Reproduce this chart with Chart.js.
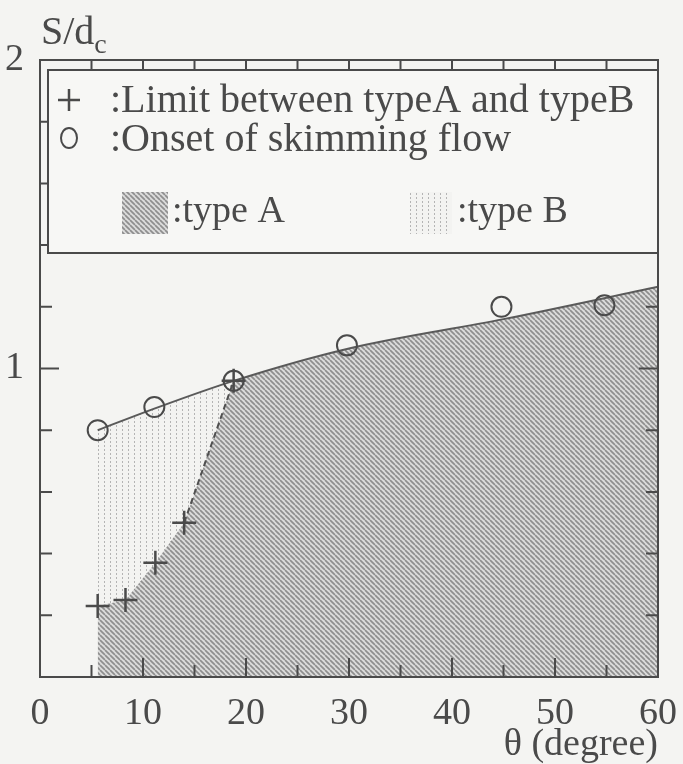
<!DOCTYPE html>
<html>
<head>
<meta charset="utf-8">
<title>S/dc against theta</title>
<script src="https://cdn.jsdelivr.net/npm/chart.js@4.4.1/dist/chart.umd.min.js"></script>
<style>
  html, body { margin: 0; padding: 0; background: #f4f4f2; }
  #wrap { width: 683px; height: 764px; }
</style>
</head>
<body>
<div id="wrap"><canvas id="flowChart" width="683" height="764"></canvas></div>
<script>
// values
const circleX = [5.6, 11.1, 18.8, 29.8, 44.8, 54.8];   // onset of skimming flow
const circleY = [0.80, 0.875, 0.96, 1.075, 1.20, 1.205];
const plusX = [5.6, 8.3, 11.2, 14.0, 18.8];            // limit between type A and type B
const plusY = [0.23, 0.25, 0.37, 0.50, 0.96];
const curveX = [5.6, 11.1, 18.8, 30, 45, 60];          // fitted onset curve
const curveY = [0.80, 0.87, 0.96, 1.065, 1.16, 1.265];
const xTickLabels = [0, 10, 20, 30, 40, 50, 60];
const yTickLabels = [1, 2];
const xMinor = [5, 10, 15, 20, 25, 30, 35, 40, 45, 50, 55];
const yMinor = [0.2, 0.4, 0.6, 0.8, 1.0, 1.2, 1.4, 1.6, 1.8];

const ink = '#4a4a4a';
const serif = '"Liberation Serif", "DejaVu Serif", serif';

function pts(xs, ys) { return xs.map((x, i) => ({ x: x, y: ys[i] })); }

// type A boundary = plus points, then follows the curve
const typeA = pts(plusX, plusY).concat(pts(curveX, curveY).filter(p => p.x > 18.8));

function hatch() {
  const c = document.createElement('canvas');
  c.width = 5; c.height = 5;
  const g = c.getContext('2d');
  g.fillStyle = '#dcdcdb';
  g.fillRect(0, 0, 5, 5);
  g.strokeStyle = '#8e8e8e';
  g.lineWidth = 1.7;
  [-5, 0, 5].forEach(k => {
    g.beginPath(); g.moveTo(k, 0); g.lineTo(k + 5, 5); g.stroke();
  });
  return g.createPattern(c, 'repeat');
}

function dots() {
  const c = document.createElement('canvas');
  c.width = 6; c.height = 4;
  const g = c.getContext('2d');
  g.fillStyle = '#f3f3f1';
  g.fillRect(0, 0, 6, 4);
  g.fillStyle = '#b4b4b4';
  g.fillRect(2, 1, 1, 2);
  return g.createPattern(c, 'repeat');
}

const hatchFill = hatch();
const dotFill = dots();

const frame = {
  id: 'frame',
  afterDatasetsDraw(chart) {
    const { ctx, chartArea: a, scales: { x, y } } = chart;
    ctx.save();
    ctx.strokeStyle = ink;
    ctx.lineWidth = 2;
    ctx.beginPath();
    xMinor.forEach(v => {
      const px = x.getPixelForValue(v);
      const len = v % 10 === 0 ? 19 : 12;
      ctx.moveTo(px, a.bottom); ctx.lineTo(px, a.bottom - len);
      ctx.moveTo(px, a.top); ctx.lineTo(px, a.top + 12);
    });
    yMinor.forEach(v => {
      const py = y.getPixelForValue(v);
      const len = v === 1 ? 19 : 12;
      ctx.moveTo(a.left, py); ctx.lineTo(a.left + len, py);
      ctx.moveTo(a.right, py); ctx.lineTo(a.right - len, py);
    });
    ctx.stroke();
    ctx.strokeRect(a.left, a.top, a.right - a.left, a.bottom - a.top);
    ctx.restore();
  },
  afterDraw(chart) {
    const { ctx, chartArea: a } = chart;
    ctx.save();
    // legend box
    const bx = a.left + 8, by = a.top + 10;
    ctx.fillStyle = '#f7f7f5';
    ctx.fillRect(bx, by, a.right - bx, 183);
    ctx.strokeStyle = ink;
    ctx.lineWidth = 2;
    ctx.strokeRect(bx, by, a.right - bx, 183);

    ctx.fillStyle = ink;
    ctx.font = '40px ' + serif;
    ctx.textBaseline = 'middle';
    ctx.textAlign = 'left';
    ctx.fillText(':Limit between typeA and typeB', bx + 62, by + 31);
    ctx.fillText(':Onset of skimming flow', bx + 62, by + 70);
    ctx.font = '38px ' + serif;
    ctx.fillText(':type A', bx + 124, by + 142);
    ctx.fillText(':type B', bx + 409, by + 142);

    ctx.lineWidth = 2.5;
    ctx.beginPath();
    ctx.moveTo(bx + 10, by + 30); ctx.lineTo(bx + 32, by + 30);
    ctx.moveTo(bx + 21, by + 19); ctx.lineTo(bx + 21, by + 41);
    ctx.stroke();
    ctx.lineWidth = 2;
    ctx.beginPath();
    ctx.ellipse(bx + 21, by + 68, 8, 10, 0, 0, Math.PI * 2);
    ctx.stroke();

    ctx.fillStyle = hatchFill;
    ctx.fillRect(bx + 74, by + 122, 46, 42);
    ctx.fillStyle = dotFill;
    ctx.fillRect(bx + 362, by + 122, 42, 42);

    // y axis title S/dc
    ctx.fillStyle = ink;
    ctx.textBaseline = 'alphabetic';
    ctx.font = '40px ' + serif;
    ctx.fillText('S/d', a.left + 1, 44);
    const w = ctx.measureText('S/d').width;
    ctx.font = '28px ' + serif;
    ctx.fillText('c', a.left + 1 + w, 53);
    ctx.restore();
  }
};

new Chart(document.getElementById('flowChart'), {
  type: 'scatter',
  data: {
    datasets: [
      {
        label: 'Limit between typeA and typeB',
        data: pts(plusX, plusY),
        pointStyle: 'cross',
        pointRadius: 12,
        pointBorderWidth: 2.5,
        borderColor: ink,
        showLine: false,
        order: 0
      },
      {
        label: 'Onset of skimming flow',
        data: pts(circleX, circleY),
        pointStyle: 'circle',
        pointRadius: 10,
        pointBorderWidth: 2,
        borderColor: ink,
        backgroundColor: 'rgba(0,0,0,0)',
        showLine: false,
        order: 0
      },
      {
        label: 'curve',
        data: pts(curveX, curveY),
        showLine: true,
        pointRadius: 0,
        borderColor: '#5a5a5a',
        borderWidth: 2,
        cubicInterpolationMode: 'monotone',
        fill: false,
        order: 1
      },
      {
        label: 'dashed limit',
        data: pts(plusX.slice(3), plusY.slice(3)),
        showLine: true,
        pointRadius: 0,
        borderColor: '#505050',
        borderWidth: 2,
        borderDash: [6, 4],
        fill: false,
        order: 1
      },
      {
        label: 'type A',
        data: typeA,
        showLine: true,
        pointRadius: 0,
        borderWidth: 0,
        borderColor: 'rgba(0,0,0,0)',
        backgroundColor: hatchFill,
        fill: 'origin',
        order: 2
      },
      {
        label: 'type B',
        data: pts(curveX, curveY),
        showLine: true,
        pointRadius: 0,
        borderWidth: 0,
        borderColor: 'rgba(0,0,0,0)',
        backgroundColor: dotFill,
        cubicInterpolationMode: 'monotone',
        fill: 'origin',
        order: 3
      }
    ]
  },
  options: {
    responsive: false,
    animation: false,
    devicePixelRatio: 1,
    layout: { padding: { top: 60, right: 22, left: 0, bottom: 0 } },
    plugins: { legend: { display: false }, tooltip: { enabled: false } },
    scales: {
      x: {
        type: 'linear',
        min: 0, max: 60,
        grid: { display: false },
        border: { display: false },
        ticks: {
          stepSize: 10,
          padding: 6,
          color: ink,
          font: { family: serif, size: 38 },
          callback: v => xTickLabels.includes(v) ? String(v) : ''
        },
        title: {
          display: true,
          text: 'θ (degree)',
          align: 'end',
          color: ink,
          font: { family: serif, size: 38, lineHeight: 1 },
          padding: 0
        },
        afterFit: s => { s.height = 87; }
      },
      y: {
        min: 0, max: 2,
        grid: { display: false },
        border: { display: false },
        ticks: {
          stepSize: 1,
          padding: 8,
          color: ink,
          font: { family: serif, size: 38 },
          callback: v => yTickLabels.includes(v) ? String(v) : ''
        },
        afterFit: s => { s.width = 40; }
      }
    }
  },
  plugins: [frame]
});
</script>
</body>
</html>
